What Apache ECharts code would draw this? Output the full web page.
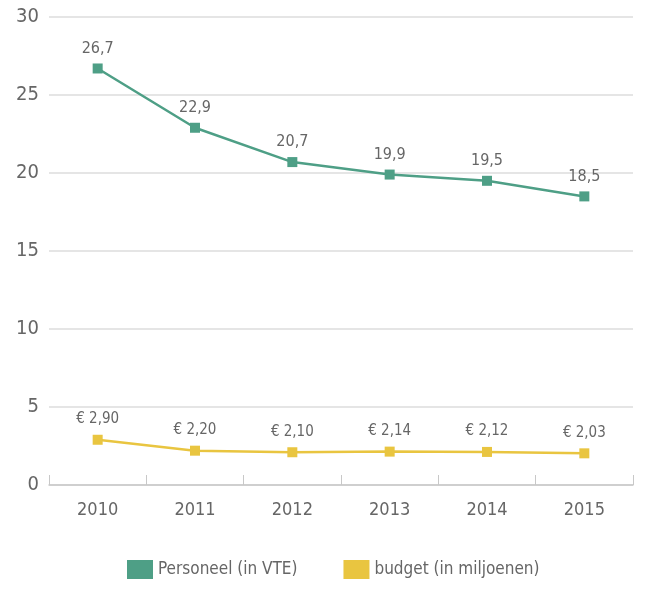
<!DOCTYPE html>
<html>
<head>
<meta charset="utf-8">
<script src="https://cdn.jsdelivr.net/npm/echarts@6/dist/echarts.min.js"></script>
<style>
  html, body { margin: 0; padding: 0; background: #fff; }
  #chart { width: 648px; height: 590px; }
</style>
</head>
<body>
<div id="chart"></div>
<script>
const years = ['2010', '2011', '2012', '2013', '2014', '2015'];
const personeel = [26.7, 22.9, 20.7, 19.9, 19.5, 18.5];
const budget = [2.90, 2.20, 2.10, 2.14, 2.12, 2.03];

const green = '#4e9f86';
const yellow = '#e9c540';
const textColor = '#666666';
const font = '"Liberation Sans Narrow", "DejaVu Sans Condensed", sans-serif';

const chart = echarts.init(document.getElementById('chart'));

const fmt = (v, d) => v.toFixed(d).replace('.', ',');

chart.setOption({
  backgroundColor: '#fff',
  textStyle: { fontFamily: font },
  grid: { left: 49, right: 15, top: 17, bottom: 105 },
  legend: {
    bottom: 6,
    left: 122,
    itemWidth: 26,
    itemHeight: 19,
    itemGap: 46,
    icon: 'rect',
    textStyle: { fontFamily: font, fontSize: 17, color: textColor },
    data: ['Personeel (in VTE)', 'budget (in miljoenen)']
  },
  xAxis: {
    type: 'category',
    data: years,
    boundaryGap: true,
    axisLine: { lineStyle: { color: '#c8c8c8', width: 1.5 } },
    axisTick: { show: true, inside: true, alignWithLabel: false, length: 10, lineStyle: { color: '#c8c8c8' } },
    axisLabel: { color: textColor, fontSize: 18, margin: 16, fontFamily: font }
  },
  yAxis: {
    type: 'value',
    min: 0,
    max: 30,
    interval: 5,
    axisLine: { show: false },
    axisTick: { show: false },
    axisLabel: { color: textColor, fontSize: 20, margin: 10, fontFamily: font },
    splitLine: { lineStyle: { color: '#dcdcdc', width: 1.5 } }
  },
  series: [
    {
      name: 'Personeel (in VTE)',
      type: 'line',
      data: personeel,
      symbol: 'rect',
      symbolSize: 10,
      color: green,
      lineStyle: { color: green, width: 2.5 },
      itemStyle: { color: green },
      label: {
        show: true,
        position: 'top',
        distance: 7,
        color: textColor,
        fontSize: 16,
        fontFamily: font,
        formatter: p => fmt(p.value, 1)
      }
    },
    {
      name: 'budget (in miljoenen)',
      type: 'line',
      data: budget,
      symbol: 'rect',
      symbolSize: 10,
      color: yellow,
      lineStyle: { color: yellow, width: 2.5 },
      itemStyle: { color: yellow },
      label: {
        show: true,
        position: 'top',
        distance: 8,
        color: textColor,
        fontSize: 15,
        fontFamily: font,
        formatter: p => '€ ' + fmt(p.value, 2)
      }
    }
  ]
});
</script>
</body>
</html>
